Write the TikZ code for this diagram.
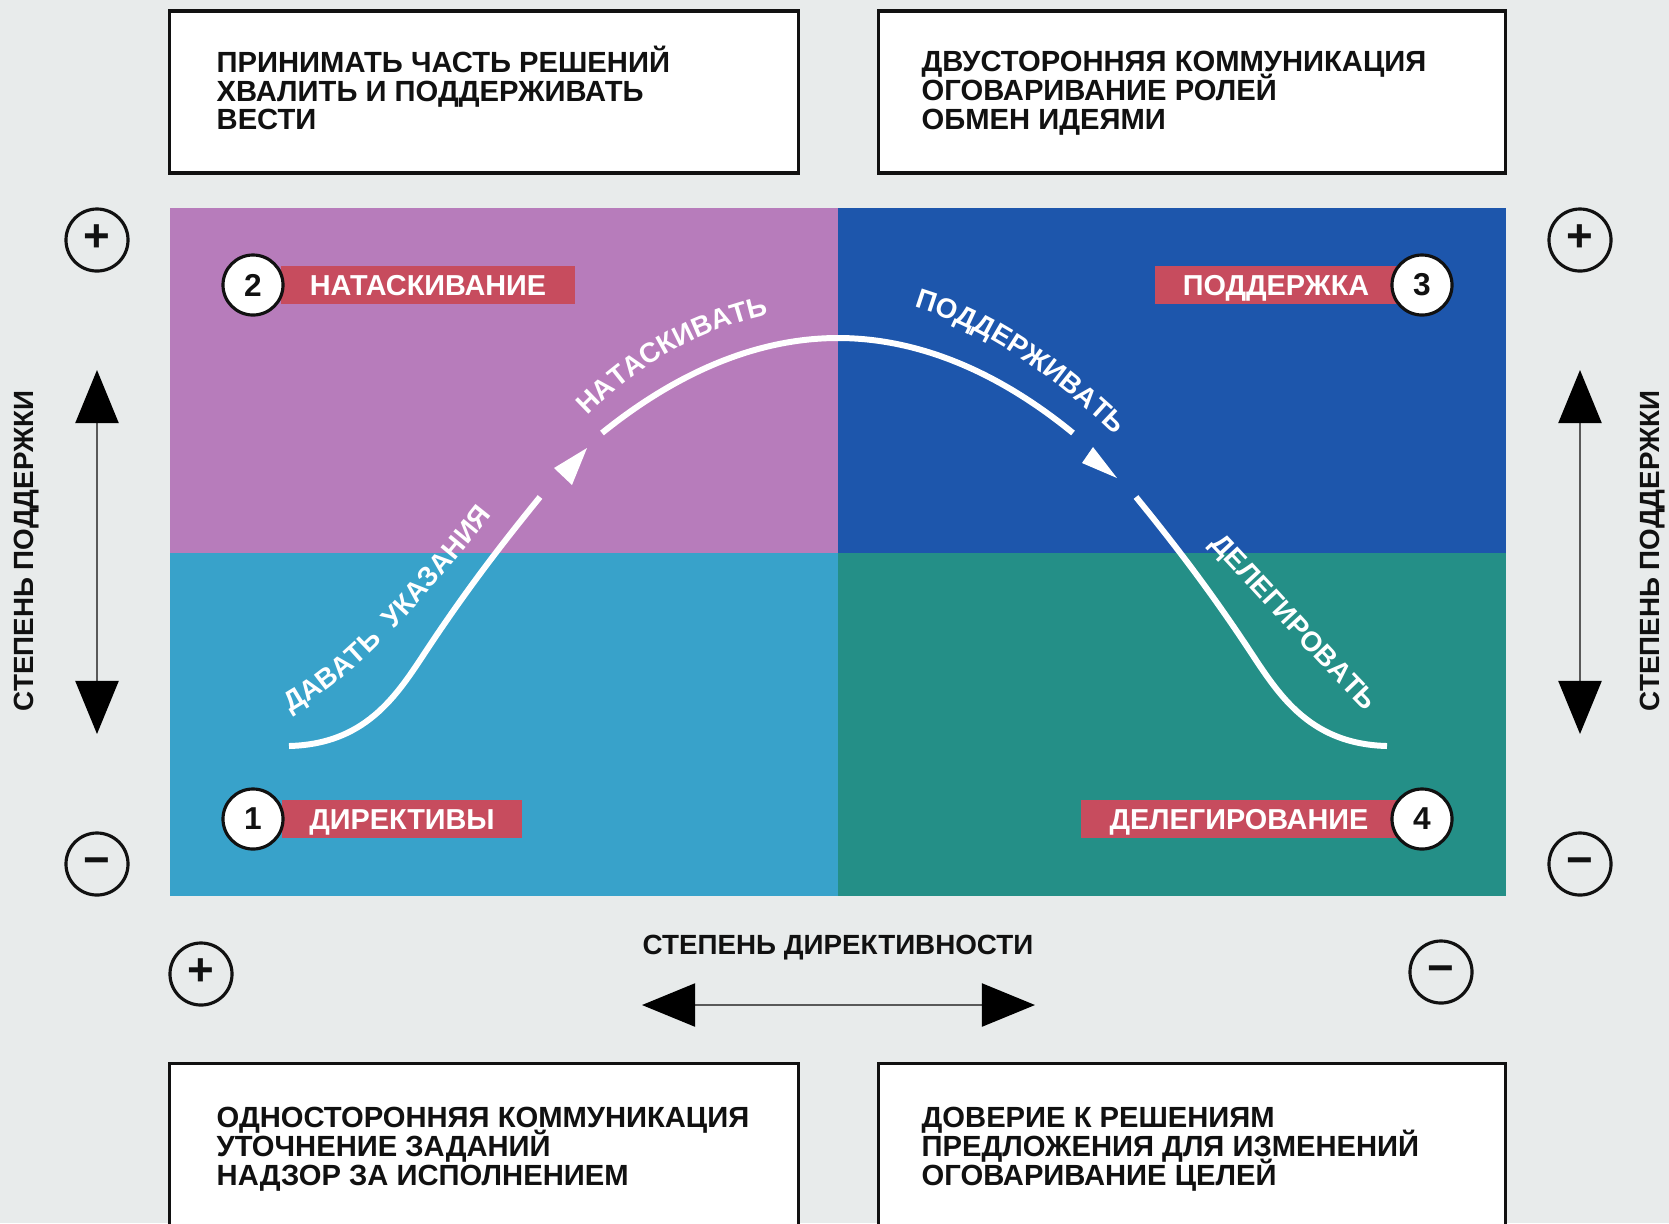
\documentclass[tikz,border=0pt]{standalone}
\usepackage{fontspec}
\setmainfont{Liberation Sans}
\usepackage{tikz}
\usetikzlibrary{positioning,arrows.meta,decorations.text}
\definecolor{bg}{HTML}{E8EBEB}
\definecolor{ink}{HTML}{111111}
\definecolor{quadtl}{HTML}{B77CBB}
\definecolor{quadtr}{HTML}{1D56AC}
\definecolor{quadbl}{HTML}{38A2CA}
\definecolor{quadbr}{HTML}{248F87}
\definecolor{tagred}{HTML}{C74C5E}
\newcommand{\crvfont}{\fontsize{7.9}{8}\selectfont\bfseries}
\newcommand{\cardfont}{\fontsize{8.3}{8.2}\selectfont\bfseries\lineskiplimit=-20pt\relax}

\begin{document}
\begin{tikzpicture}[x=0.01cm,y=-0.01cm,every node/.style={font=\bfseries,text=ink},
  card/.style={draw=ink,line width=0.9pt,fill=white,inner sep=0pt},
  cardtxt/.style={anchor=west,align=left,inner sep=0pt,font=\cardfont},
  tag/.style={fill=tagred,text=white,minimum height=0.38cm,inner sep=0pt,text height=2mm,text depth=0pt,font=\fontsize{8.2}{8}\selectfont\bfseries},
  num/.style={circle,draw=ink,line width=0.9pt,fill=white,minimum size=0.6cm,inner sep=0pt,font=\fontsize{9}{9}\selectfont\bfseries},
  sign/.style={circle,draw=ink,line width=0.9pt,minimum size=0.62cm,inner sep=0pt,text height=0.68em,text depth=0pt,font=\fontsize{13}{13}\selectfont\bfseries},
  axtxt/.style={font=\fontsize{7.9}{8}\selectfont\bfseries},
  ax/.style={{Triangle[length=0.53cm,width=0.43cm,color=black]}-{Triangle[length=0.53cm,width=0.43cm,color=black]},line width=0.6pt,draw=black!65},
  crv/.style={draw=white,line width=1.7pt},
  crvtxt/.style={decorate,decoration={text along path,text align=center,text color=white}}]
  \useasboundingbox (0,0) rectangle (1669,1223);
  \fill[bg] (0,0) rectangle (1669,1223);
  \clip (0,0) rectangle (1669,1223);
  % quadrants
  \fill[quadtl] (170,208) rectangle (838,553);
  \fill[quadtr] (838,208) rectangle (1506,553);
  \fill[quadbl] (170,553) rectangle (838,896);
  \fill[quadbr] (838,553) rectangle (1506,896);
  % cards
  \node[card,minimum width=6.28cm,minimum height=1.62cm] (tl) at (484,92) {};
  \node[card,minimum width=6.27cm,minimum height=1.62cm] (tr) at (1192,92) {};
  \node[card,minimum width=6.28cm,minimum height=2.4cm,anchor=north] (bl) at (484,1062) {};
  \node[card,minimum width=6.27cm,minimum height=2.4cm,anchor=north] (br) at (1192,1062) {};
  \node[cardtxt] (tltxt) at (216,88) {ПРИНИМАТЬ ЧАСТЬ РЕШЕНИЙ\\ХВАЛИТЬ И ПОДДЕРЖИВАТЬ\\ВЕСТИ};
  \node[cardtxt] (trtxt) at (921,93) {ДВУСТОРОННЯЯ КОММУНИКАЦИЯ\\ОГОВАРИВАНИЕ РОЛЕЙ\\ОБМЕН ИДЕЯМИ};
  \node[cardtxt] (bltxt) at (216,1149) {ОДНОСТОРОННЯЯ КОММУНИКАЦИЯ\\УТОЧНЕНИЕ ЗАДАНИЙ\\НАДЗОР ЗА ИСПОЛНЕНИЕМ};
  \node[cardtxt] (brtxt) at (921,1149) {ДОВЕРИЕ К РЕШЕНИЯМ\\ПРЕДЛОЖЕНИЯ ДЛЯ ИЗМЕНЕНИЙ\\ОГОВАРИВАНИЕ ЦЕЛЕЙ};
  % tags
  \node[tag,minimum width=2.93cm] (t2) at (428,285) {НАТАСКИВАНИЕ};
  \node[tag,minimum width=2.41cm] (t3) at (1276,285) {ПОДДЕРЖКА};
  \node[tag,minimum width=2.40cm] (t1) at (402,819) {ДИРЕКТИВЫ};
  \node[tag,minimum width=3.16cm] (t4) at (1239,819) {ДЕЛЕГИРОВАНИЕ};
  \node[num] (n2) at (253,285) {2};
  \node[num] (n3) at (1422,285) {3};
  \node[num] (n1) at (253,819) {1};
  \node[num] (n4) at (1422,819) {4};
  % axes
  \node[sign] (lp) at (97,240) {+};
  \node[sign] (lm) at (97,864) {−};
  \node[sign] (rp) at (1580,240) {+};
  \node[sign] (rm) at (1580,864) {−};
  \node[sign] (bp) at (201,974) {+};
  \node[sign] (bm) at (1441,972) {−};
  \coordinate (lt) at (97,370); \coordinate (lb) at (97,734);
  \coordinate (rt) at (1580,370); \coordinate (rb) at (1580,734);
  \coordinate (hl) at (642,1005); \coordinate (hr) at (1035,1005);
  \draw[ax] (lt) -- (lb); \draw[ax] (rt) -- (rb); \draw[ax] (hl) -- (hr);
  \node[axtxt,rotate=90] (ly) at (27,551) {СТЕПЕНЬ ПОДДЕРЖКИ};
  \node[axtxt,rotate=90] (ry) at (1653,551) {СТЕПЕНЬ ПОДДЕРЖКИ};
  \node[axtxt] (dx) at (838,948) {СТЕПЕНЬ ДИРЕКТИВНОСТИ};
  % curve
  \draw[crv] (289,746) .. controls (370,744) and (400,690) .. (430,645) .. controls (470,585) and (505,540) .. (540,497);
  \fill[white] (587,448) -- (554,468) -- (572,485) -- cycle;
  \draw[crv] (602,433) .. controls (680,370) and (760,338) .. (838,338) .. controls (916,338) and (996,370) .. (1073,433);
  \fill[white] (1117,478) -- (1093,447) -- (1082,463) -- cycle;
  \draw[crv] (1136,497) .. controls (1171,540) and (1206,585) .. (1246,645) .. controls (1276,690) and (1306,744) .. (1387,746);
  \path[crvtxt,decoration={text={|\crvfont|ДАВАТЬ{ } УКАЗАНИЯ}}] (281,718) .. controls (345,685) and (405,625) .. (499,506);
  \path[crvtxt,decoration={text={|\crvfont|НАТАСКИВАТЬ}}] (580,424) .. controls (635,365) and (700,328) .. (780,312);
  \path[crvtxt,decoration={text={|\crvfont|ПОДДЕРЖИВАТЬ}}] (900,303) .. controls (978,322) and (1055,375) .. (1126,446);
  \path[crvtxt,decoration={text={|\crvfont|ДЕЛЕГИРОВАТЬ}}] (1205,540) .. controls (1260,598) and (1312,657) .. (1370,716);
\end{tikzpicture}
\end{document}
